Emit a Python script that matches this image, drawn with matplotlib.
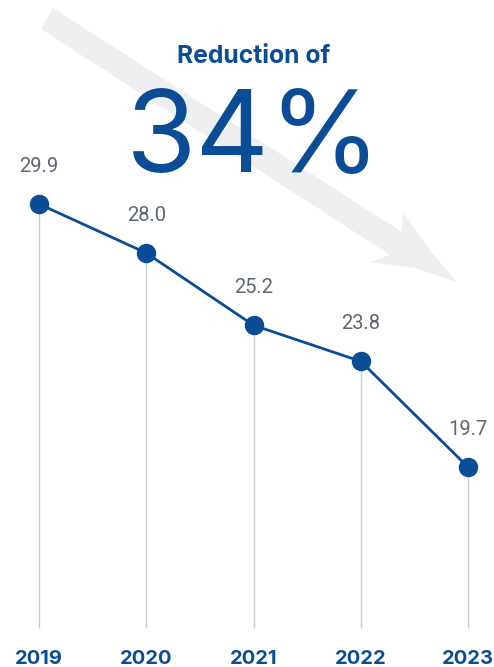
import matplotlib.pyplot as plt
from matplotlib.patches import Polygon

# Data
years = ["2019", "2020", "2021", "2022", "2023"]
values = [29.9, 28.0, 25.2, 23.8, 19.7]
headline = "34%"
subtitle = "Reduction of"

BLUE = "#0B4C97"
GREY_TEXT = "#5E6670"
GREY_LINE = "#C9CCD1"
ARROW = "#EEEFF1"

W, H = 494, 667
plt.rcParams['font.family'] = ['Roboto', 'DejaVu Sans']

fig = plt.figure(figsize=(W / 100, H / 100), dpi=100)
fig.patch.set_facecolor("white")
ax = fig.add_axes([0, 0, 1, 1])
ax.axis("off")

x = list(range(len(years)))
ax.set_xlim(-0.364, 4.242)
ax.set_ylim(11.95, 37.81)

# big decorative arrow behind everything (pixel coords, y from top)
arrow_px = [(53, 8), (402, 232), (403, 212), (430, 250), (457, 282),
            (415, 268), (370, 262), (390, 255), (41, 29)]
arrow_fig = [(px / W, 1 - py / H) for px, py in arrow_px]
fig.patches.append(Polygon(arrow_fig, closed=True, facecolor=ARROW,
                           edgecolor="none", transform=fig.transFigure,
                           zorder=0))

# drop lines from each point to the baseline
ax.vlines(x, 13.45, values, color=GREY_LINE, linewidth=1.0, zorder=1)

ax.plot(x, values, color=BLUE, linewidth=2.0, marker="o", markersize=13,
        markerfacecolor=BLUE, markeredgecolor=BLUE, zorder=3)

for xi, v in zip(x, values):
    ax.annotate(f"{v:.1f}", (xi, v), xytext=(0, 23), textcoords="offset points",
                ha="center", va="baseline", fontsize=14.5, color=GREY_TEXT,
                zorder=4)

for xi, yr in zip(x, years):
    ax.text(xi, 0.004, yr, transform=ax.get_xaxis_transform(), ha="center",
            va="baseline", fontsize=14.5, fontweight="bold", color=BLUE,
            family=["Inter", "DejaVu Sans"])

fig.text(254 / W, 1 - 63 / H, subtitle, ha="center", va="baseline",
         fontsize=17.8, fontweight="bold", color=BLUE, zorder=5,
         family=["Inter", "DejaVu Sans"])
fig.text(254 / W, 1 - 172 / H, headline, ha="center", va="baseline",
         fontsize=82, color=BLUE, zorder=5, family=["Inter", "DejaVu Sans"])

fig.savefig("out.png", dpi=100, facecolor="white")
